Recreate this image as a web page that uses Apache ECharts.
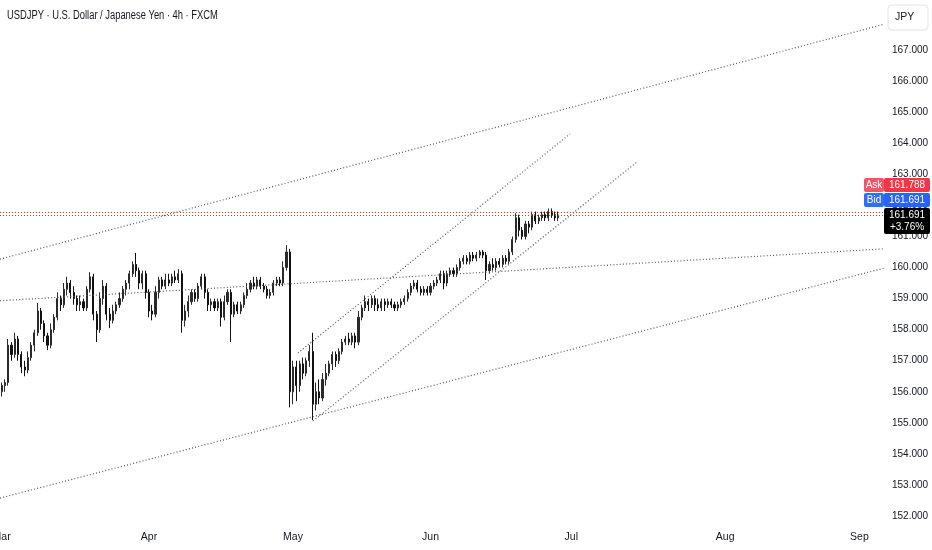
<!DOCTYPE html>
<html>
<head>
<meta charset="utf-8">
<script src="https://cdn.jsdelivr.net/npm/echarts@6/dist/echarts.min.js"></script>
<style>
html,body{margin:0;padding:0;background:#fff;}
#c{width:932px;height:550px;}
</style>
</head>
<body>
<div id="c"></div>
<script>
const TITLE = 'USDJPY · U.S. Dollar / Japanese Yen · 4h · FXCM';
const CURRENCY = 'JPY';
const BAR_COUNT = 270;
const monthLabels = ['Mar', 'Apr', 'May', 'Jun', 'Jul', 'Aug', 'Sep'];
const monthBars = [0, 45, 89, 131, 174, 221, 262];
const priceTicks = [152, 153, 154, 155, 156, 157, 158, 159, 160, 161, 162, 163, 164, 165, 166, 167];
const priceMin = 151.81;
const priceMax = 168.61;
// [open, close, low, high]
const candles = [
[156.0,156.2,155.85,156.3],[156.2,156.3,156.0,156.4],[156.3,157.5,156.2,157.7],[157.5,157.2,157.0,157.6],
[157.2,157.7,157.1,157.9],[157.7,157.2,157.0,157.8],[157.2,156.8,156.6,157.3],[156.8,156.7,156.5,157.0],
[156.7,157.1,156.6,157.3],[157.1,157.5,157.0,157.6],[157.5,157.9,157.3,158.0],[157.9,158.6,157.8,158.86],
[158.6,158.2,158.0,158.7],[158.2,157.8,157.6,158.3],[157.8,157.5,157.34,157.9],[157.5,158.0,157.4,158.2],
[158.0,158.4,157.9,158.5],[158.4,159.0,158.3,159.2],[159.0,158.8,158.6,159.1],[158.8,159.3,158.7,159.5],
[159.3,159.5,159.1,159.7],[159.5,159.2,159.0,159.6],[159.2,159.0,158.8,159.4],[159.0,158.8,158.6,159.1],
[158.8,158.9,158.6,159.1],[158.9,158.7,158.6,159.0],[158.7,159.3,158.6,159.4],[159.3,159.7,159.2,159.85],
[159.7,158.5,158.3,159.8],[158.5,158.0,157.6,158.6],[158.0,159.0,157.9,159.2],[159.0,159.4,158.8,159.6],
[159.4,158.5,158.3,159.5],[158.5,158.3,158.05,158.7],[158.3,158.6,158.2,158.8],[158.6,158.8,158.5,158.9],
[158.8,159.0,158.7,159.2],[159.0,159.3,158.9,159.4],[159.3,159.5,159.1,159.6],[159.5,159.8,159.3,159.9],
[159.8,160.1,159.7,160.2],[160.1,159.9,159.7,160.47],[159.9,159.5,159.3,160.0],[159.5,159.8,159.3,159.9],
[159.8,159.2,159.0,159.9],[159.2,158.6,158.4,159.3],[158.6,158.5,158.3,158.8],[158.5,159.2,158.4,159.4],
[159.2,159.6,159.0,159.7],[159.6,159.4,159.3,159.7],[159.4,159.6,159.3,159.8],[159.6,159.5,159.4,159.8],
[159.5,159.7,159.4,159.8],[159.7,159.6,159.5,159.9],[159.6,159.8,159.5,159.95],[159.8,158.3,157.9,159.9],
[158.3,158.6,158.1,158.8],[158.6,158.9,158.4,159.1],[158.9,159.2,158.8,159.3],[159.2,159.0,158.9,159.3],
[159.0,159.4,158.9,159.5],[159.4,159.7,159.3,159.8],[159.7,159.2,159.0,159.8],[159.2,158.8,158.6,159.3],
[158.8,158.9,158.6,159.0],[158.9,158.7,158.6,159.0],[158.7,158.9,158.6,159.0],[158.9,158.4,158.1,159.0],
[158.4,158.9,158.3,159.1],[158.9,159.2,158.8,159.3],[159.2,158.5,157.6,159.3],[158.5,158.8,158.4,158.9],
[158.8,158.6,158.5,158.9],[158.6,158.8,158.5,158.9],[158.8,159.1,158.7,159.2],[159.1,159.3,159.0,159.5],
[159.3,159.5,159.2,159.6],[159.5,159.4,159.3,159.7],[159.4,159.6,159.3,159.7],[159.6,159.4,159.3,159.7],
[159.4,159.3,159.2,159.5],[159.3,159.1,159.0,159.4],[159.1,159.2,159.0,159.3],[159.2,159.5,159.1,159.6],
[159.5,159.6,159.4,159.7],[159.6,159.5,159.4,159.7],[159.5,160.0,159.4,160.2],[160.0,160.5,159.9,160.72],
[160.5,156.0,155.5,160.6],[156.0,156.8,155.6,157.0],[156.8,156.2,155.7,157.0],[156.2,156.9,156.0,157.0],
[156.9,156.6,156.4,157.1],[156.6,157.0,156.5,157.1],[157.0,157.3,156.8,157.5],[157.3,155.6,155.09,157.9],
[155.6,156.0,155.4,156.3],[156.0,155.8,155.6,156.4],[155.8,156.4,155.7,156.6],[156.4,156.6,156.2,156.9],
[156.6,156.9,156.5,157.0],[156.9,157.2,156.7,157.3],[157.2,157.0,156.8,157.3],[157.0,157.3,156.9,157.4],
[157.3,157.6,157.2,157.7],[157.6,157.7,157.5,157.8],[157.7,157.6,157.5,157.9],[157.6,157.8,157.5,157.9],
[157.8,157.6,157.4,157.9],[157.6,158.4,157.5,158.6],[158.4,158.7,158.3,158.8],[158.7,158.9,158.6,159.1],
[158.9,158.8,158.6,159.0],[158.8,159.0,158.7,159.1],[159.0,158.8,158.6,159.1],[158.8,158.7,158.6,159.0],
[158.7,158.9,158.6,159.0],[158.9,158.8,158.6,159.0],[158.8,158.9,158.7,159.0],[158.9,158.8,158.7,159.0],
[158.8,158.7,158.6,158.9],[158.7,158.8,158.6,158.9],[158.8,158.9,158.7,159.0],[158.9,159.0,158.8,159.1],
[159.0,159.2,158.9,159.3],[159.2,159.4,159.1,159.5],[159.4,159.5,159.3,159.6],[159.5,159.3,159.2,159.6],
[159.3,159.2,159.1,159.4],[159.2,159.3,159.1,159.4],[159.3,159.2,159.1,159.4],[159.2,159.4,159.1,159.5],
[159.4,159.5,159.3,159.6],[159.5,159.6,159.4,159.7],[159.6,159.8,159.5,159.9],[159.8,159.5,159.3,159.9],
[159.5,159.8,159.4,159.9],[159.8,159.9,159.7,160.0],[159.9,159.8,159.7,160.0],[159.8,160.0,159.7,160.1],
[160.0,160.2,159.9,160.3],[160.2,160.3,160.1,160.4],[160.3,160.2,160.1,160.4],[160.2,160.4,160.1,160.5],
[160.4,160.3,160.2,160.5],[160.3,160.4,160.2,160.5],[160.4,160.5,160.3,160.56],[160.5,160.4,160.3,160.56],
[160.4,159.9,159.6,160.5],[159.9,160.1,159.8,160.2],[160.1,160.0,159.9,160.3],[160.0,160.2,159.9,160.3],
[160.2,160.1,160.0,160.3],[160.1,160.3,160.0,160.4],[160.3,160.2,160.1,160.4],[160.2,160.5,160.1,160.6],
[160.5,160.9,160.4,161.0],[160.9,161.6,160.8,161.75],[161.6,161.2,161.0,161.7],[161.2,161.0,160.9,161.3],
[161.0,161.4,160.9,161.5],[161.4,161.3,161.1,161.5],[161.3,161.7,161.2,161.8],[161.7,161.5,161.4,161.8],
[161.5,161.6,161.4,161.7],[161.6,161.7,161.5,161.8],[161.7,161.6,161.5,161.8],[161.6,161.8,161.5,161.9],
[161.8,161.7,161.6,161.9],[161.7,161.6,161.5,161.8],[161.6,161.691,161.5,161.8]
];
// trend lines: [[barPos, price], [barPos, price]]
const trendLines = [
  [[-0.5, 160.27], [269.5, 167.83]],
  [[-0.5, 158.93], [269.5, 160.60]],
  [[-0.5, 152.58], [269.5, 159.98]],
  [[90.5, 157.25], [173.6, 164.30]],
  [[95.1, 155.06], [194.1, 163.40]]
];
const askPrice = 161.788;
const bidPrice = 161.691;
const lastPrice = 161.691;
const changeText = '+3.76%';

const categories = [];
for (let i = 0; i < BAR_COUNT; i++) categories.push('b' + i);
const monthMap = {};
monthBars.forEach((b, k) => { monthMap[b] = monthLabels[k]; });

const FONT = '"Liberation Sans", Arial, sans-serif';
const chart = echarts.init(document.getElementById('c'), null, {renderer: 'canvas'});

const series = [{
  type: 'candlestick',
  xAxisIndex: 0, yAxisIndex: 0,
  data: candles,
  barWidth: 1.6,
  itemStyle: {color: '#2a2a2a', color0: '#111', borderColor: '#2a2a2a', borderColor0: '#111', borderWidth: 1},
  markLine: {
    silent: true, symbol: ['none', 'none'], label: {show: false},
    data: [
      {yAxis: askPrice, lineStyle: {color: '#f23645', type: [1, 2], width: 1}},
      {yAxis: bidPrice, lineStyle: {color: '#2962ff', type: [1, 2], width: 1}}
    ],
    animation: false
  }
}];
trendLines.forEach(seg => {
  series.push({
    type: 'line', xAxisIndex: 1, yAxisIndex: 0, data: seg,
    symbol: 'none', clip: true, silent: true,
    lineStyle: {color: '#555', width: 1.2, type: [1, 2.2]}
  });
});

chart.setOption({
  animation: false,
  backgroundColor: '#fff',
  grid: {left: 0, right: 48, top: 0, bottom: 28, containLabel: false, outerBoundsMode: 'none'},
  xAxis: [{
    type: 'category', data: categories, boundaryGap: true,
    axisLine: {show: false}, axisTick: {show: false}, splitLine: {show: false},
    axisLabel: {
      interval: (idx) => monthMap[idx] !== undefined,
      formatter: (v, idx) => monthMap[idx] || '',
      color: '#131722', fontSize: 10.5, fontFamily: FONT, margin: 10
    }
  }, {
    type: 'value', min: -0.5, max: BAR_COUNT - 0.5, show: false
  }],
  yAxis: [{
    type: 'value', position: 'right', min: priceMin, max: priceMax, scale: true,
    axisLine: {show: false}, axisTick: {show: false}, splitLine: {show: false},
    axisLabel: {customValues: priceTicks, formatter: v => v.toFixed(3), color: '#131722', fontSize: 10, fontFamily: FONT, margin: 8}
  }],
  series: series
});

const yLast = chart.convertToPixel({yAxisIndex: 0}, lastPrice);
const boxL = 884, boxW = 46;
const lastTop = yLast - 7, lastH = 26;
const bidTop = lastTop - 15, askTop = bidTop - 15;
const ZZ = 100;
function box(x, y, w, h, fill, text) {
  return {
    type: 'group', z: ZZ, children: [
      {type: 'rect', z: ZZ, shape: {x: x, y: y, width: w, height: h, r: 2}, style: {fill: fill}},
      {type: 'text', z: ZZ + 1, style: {x: x + w / 2, y: y + h / 2, text: text, fill: '#fff', font: '10px ' + FONT, align: 'center', verticalAlign: 'middle', lineHeight: 12}}
    ]
  };
}
chart.setOption({
  graphic: [
    {type: 'text', z: ZZ, x: 7, y: 16, scaleX: 0.78, style: {x: 0, y: 0, text: TITLE, fill: '#131722', font: '12px ' + FONT, verticalAlign: 'middle'}},
    {type: 'rect', z: ZZ, shape: {x: 888, y: 5, width: 40, height: 25, r: 4}, style: {fill: '#fff', stroke: '#e0e3eb', lineWidth: 1}},
    {type: 'text', z: ZZ + 1, style: {x: 895, y: 17.5, text: CURRENCY, fill: '#131722', font: '10.5px ' + FONT, verticalAlign: 'middle'}},
    box(864, askTop, 20, 14, '#f05663', 'Ask'),
    box(boxL, askTop, boxW, 14, '#f23645', askPrice.toFixed(3)),
    box(864, bidTop, 20, 14, '#2f6ff5', 'Bid'),
    box(boxL, bidTop, boxW, 14, '#2962ff', bidPrice.toFixed(3)),
    {type: 'rect', z: ZZ, shape: {x: boxL, y: lastTop, width: boxW, height: lastH, r: 2}, style: {fill: '#000'}},
    {type: 'text', z: ZZ + 1, style: {x: boxL + boxW / 2, y: lastTop + lastH / 2, text: lastPrice.toFixed(3) + '\n' + changeText, fill: '#fff', font: '10px ' + FONT, align: 'center', verticalAlign: 'middle', lineHeight: 12}}
  ]
});
</script>
</body>
</html>
